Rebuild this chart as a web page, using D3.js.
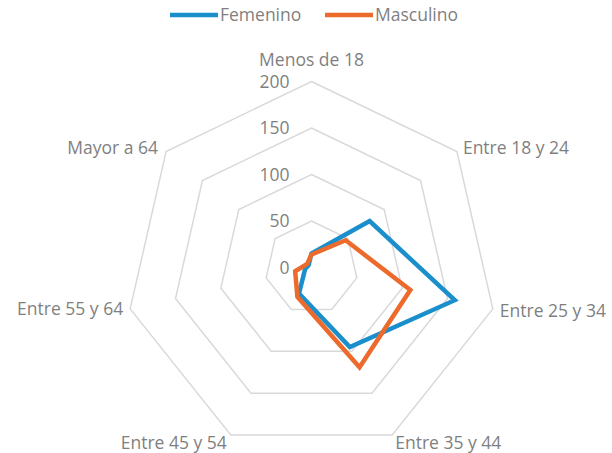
<!DOCTYPE html>
<html>
<head>
<meta charset="utf-8">
<script src="https://cdn.jsdelivr.net/npm/d3@7"></script>
<style>
  body { margin: 0; background: #fff; }
  svg text { font-family: "Open Sans", sans-serif; fill: #7f7f7f; }
</style>
</head>
<body>
<svg id="chart" width="612" height="453"></svg>
<script>
const categories = ['Menos de 18', 'Entre 18 y 24', 'Entre 25 y 34', 'Entre 35 y 44', 'Entre 45 y 54', 'Entre 55 y 64', 'Mayor a 64'];
const femenino = [15, 80, 158, 95, 31, 7, 4];
const masculino = [14, 47, 109, 119, 35, 18, 6];
const ticks = [0, 50, 100, 150, 200];
const seriesNames = ['Femenino', 'Masculino'];
const colors = ['#1b8fcb', '#ec6a2c'];

const svg = d3.select('#chart');
const cx = 311.5, cy = 267.5, R = 186;
const fontSize = 17.5;

const r = d3.scaleLinear().domain([0, 200]).range([0, R]);
const angle = d3.scalePoint().domain(categories).range([0, 2 * Math.PI * 6 / 7]);

function pt(cat, v) {
  const a = angle(cat);
  return [cx + Math.sin(a) * r(v), cy - Math.cos(a) * r(v)];
}

// grid rings
const grid = svg.append('g');
ticks.filter(t => t > 0).forEach(t => {
  grid.append('path')
    .attr('d', d3.line()(categories.map(c => pt(c, t))) + 'Z')
    .attr('fill', 'none')
    .attr('stroke', '#d9d9d9')
    .attr('stroke-width', 1.5);
});

// tick labels
svg.append('g').selectAll('text')
  .data(ticks)
  .join('text')
  .attr('x', cx - 22)
  .attr('y', d => cy - r(d))
  .attr('dy', '0.35em')
  .attr('text-anchor', 'end')
  .attr('font-size', fontSize)
  .text(d => d);

// category labels, offset from the outer ring vertex
const labelPos = {
  'Menos de 18': { dx: 0, dy: -22, anchor: 'middle' },
  'Entre 18 y 24': { dx: 6, dy: -4, anchor: 'start' },
  'Entre 25 y 34': { dx: 7, dy: 2, anchor: 'start' },
  'Entre 35 y 44': { dx: 3, dy: 8, anchor: 'start' },
  'Entre 45 y 54': { dx: -4, dy: 8, anchor: 'end' },
  'Entre 55 y 64': { dx: -7, dy: 0, anchor: 'end' },
  'Mayor a 64': { dx: -8, dy: -4, anchor: 'end' }
};
svg.append('g').selectAll('text')
  .data(categories)
  .join('text')
  .attr('x', d => pt(d, 200)[0] + labelPos[d].dx)
  .attr('y', d => pt(d, 200)[1] + labelPos[d].dy)
  .attr('dy', '0.35em')
  .attr('text-anchor', d => labelPos[d].anchor)
  .attr('font-size', fontSize)
  .text(d => d);

// series
[femenino, masculino].forEach((vals, i) => {
  svg.append('path')
    .attr('d', d3.line()(categories.map((c, j) => pt(c, vals[j]))) + 'Z')
    .attr('fill', 'none')
    .attr('stroke', colors[i])
    .attr('stroke-width', 4.5)
    .attr('stroke-linejoin', 'miter');
});

// legend
const legendX = [170, 325];
const legend = svg.append('g');
seriesNames.forEach((name, i) => {
  legend.append('line')
    .attr('x1', legendX[i]).attr('x2', legendX[i] + 48)
    .attr('y1', 15).attr('y2', 15)
    .attr('stroke', colors[i])
    .attr('stroke-width', 4.5);
  legend.append('text')
    .attr('x', legendX[i] + 50)
    .attr('y', 15)
    .attr('dy', '0.35em')
    .attr('font-size', fontSize)
    .text(name);
});
</script>
</body>
</html>
